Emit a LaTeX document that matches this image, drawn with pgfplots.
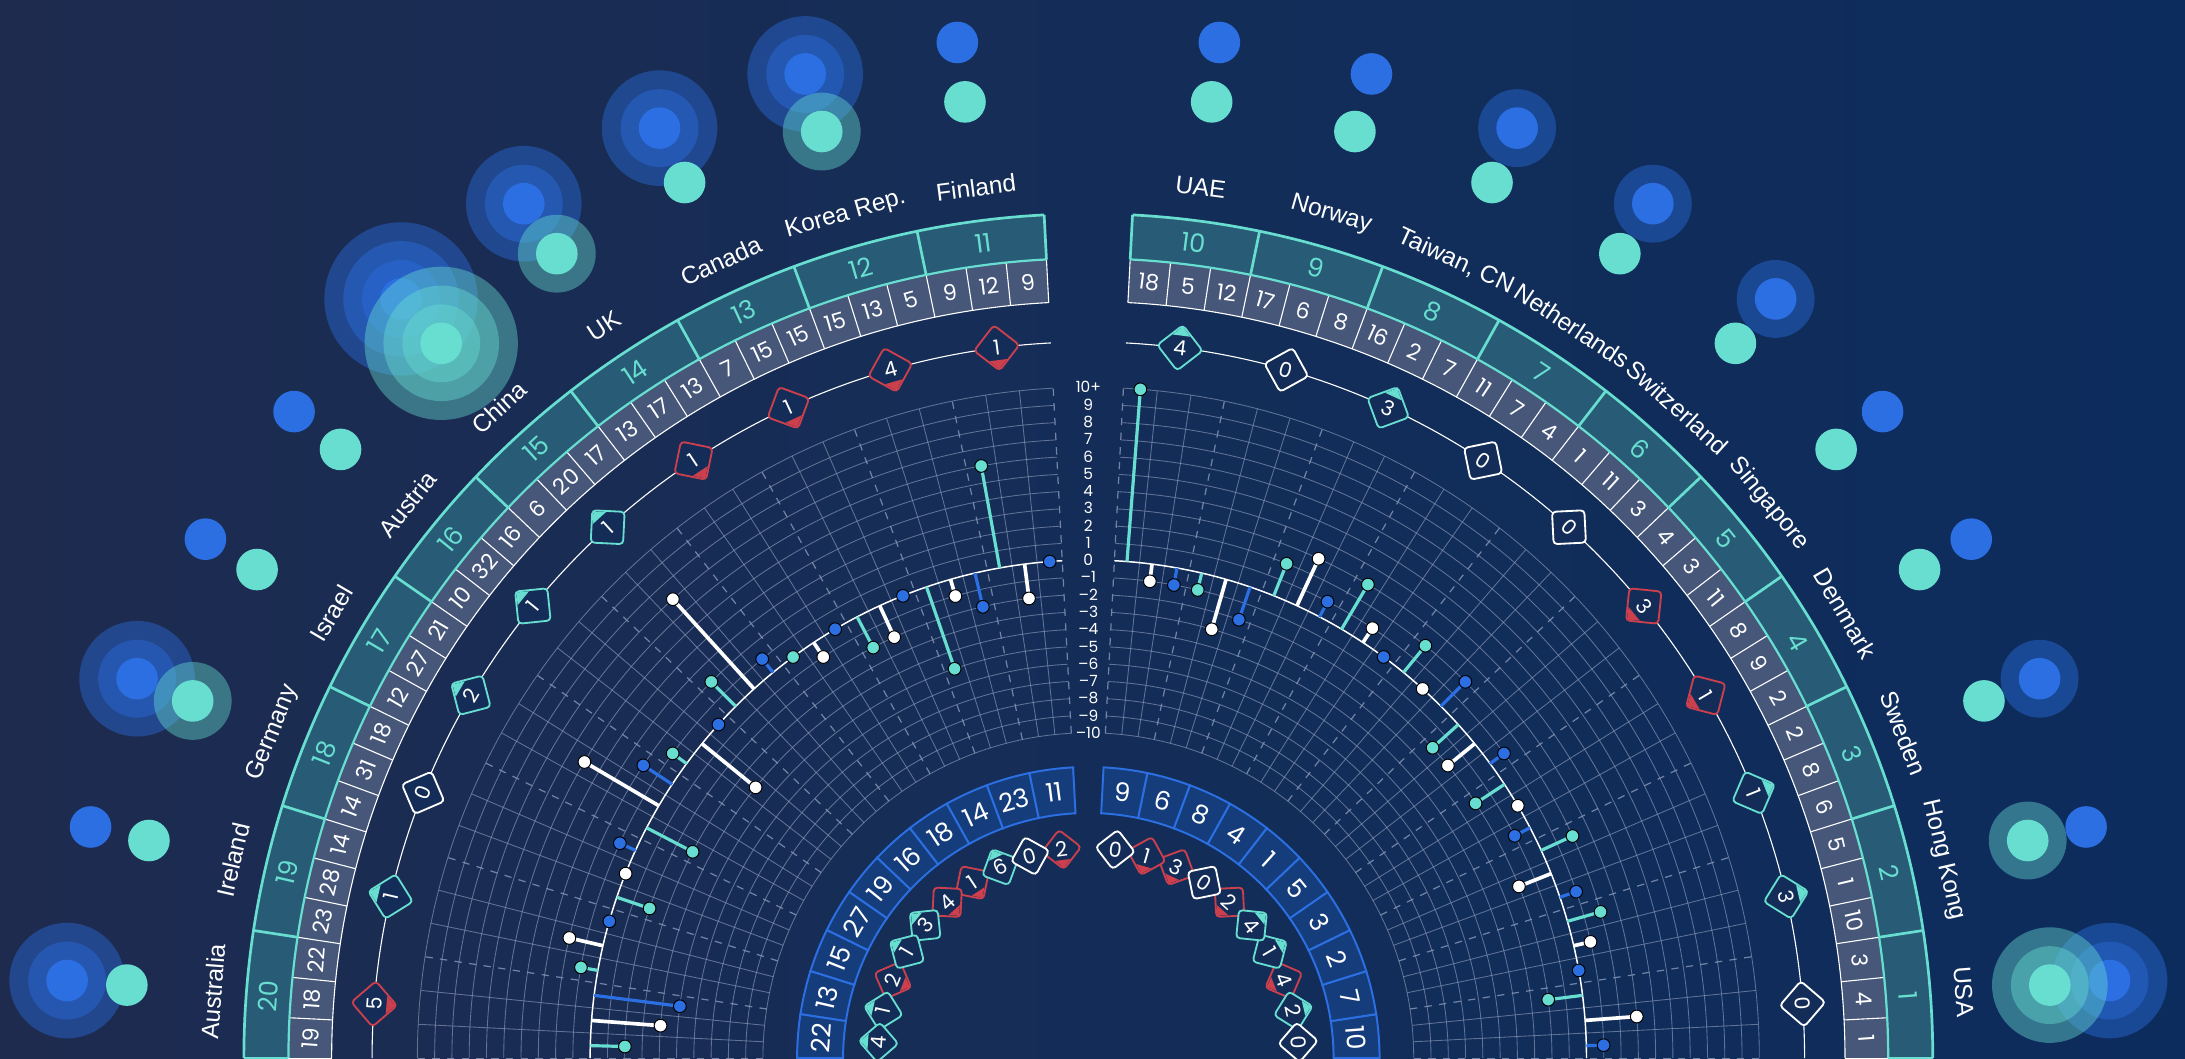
\documentclass[border=0pt]{standalone}
\usepackage{pgfplots}
\pgfplotsset{compat=1.18}
\usepackage{pgfplotstable}
\usepackage{fontspec}
\setmainfont{Liberation Sans}
\newfontfamily\numfont{Poppins}
\usetikzlibrary{shapes.geometric}

\definecolor{bgL}{HTML}{1E2B4F}
\definecolor{bgM}{HTML}{142D58}
\definecolor{bgR}{HTML}{0C2C5D}
\definecolor{bgD}{HTML}{142D58}
\definecolor{tl}{HTML}{68DED1}
\definecolor{bl}{HTML}{2B6FE2}
\definecolor{tband}{HTML}{285B75}
\definecolor{gband}{HTML}{46577A}
\definecolor{rd}{HTML}{CC404E}
\definecolor{iband}{HTML}{153D7B}
\definecolor{gridc}{HTML}{8A99B8}

% corner marks of the change diamonds (local +y = outward)
\pgfdeclareplotmark{cornerup}{%
  \pgfpathmoveto{\pgfqpoint{0pt}{\pgfplotmarksize}}%
  \pgfpathlineto{\pgfqpoint{-0.42\pgfplotmarksize}{0.58\pgfplotmarksize}}%
  \pgfpathlineto{\pgfqpoint{0.42\pgfplotmarksize}{0.58\pgfplotmarksize}}%
  \pgfpathclose\pgfusepathqfill}
\pgfdeclareplotmark{cornerdown}{%
  \pgfpathmoveto{\pgfqpoint{0pt}{-\pgfplotmarksize}}%
  \pgfpathlineto{\pgfqpoint{-0.42\pgfplotmarksize}{-0.58\pgfplotmarksize}}%
  \pgfpathlineto{\pgfqpoint{0.42\pgfplotmarksize}{-0.58\pgfplotmarksize}}%
  \pgfpathclose\pgfusepathqfill}

\pgfplotstableread{
a name rank lo mid hi inn lb lw lt hb ht
4.35 USA 1 1 4 3 10 1 3 -2 2 2
13.05 {Hong Kong} 2 10 1 5 7 0 1 2 0 1
21.75 Sweden 3 6 8 2 2 1 -2 2 1 0
30.45 Denmark 4 2 9 8 3 -1 0 -2 0 0
39.15 Singapore 5 11 3 4 5 1 -2 -2 0 0
47.85 Switzerland 6 3 11 1 1 2 0 2 1 0
56.55 Netherlands 7 4 7 11 4 0 1 3 1 0
65.25 {Taiwan, CN} 8 7 2 16 8 1 3 2 1 0
73.95 Norway 9 8 6 17 6 -2 -3 -1 0 0
82.65 UAE 10 12 5 18 9 -1 -1 10 0 0
97.35 Finland 11 9 12 9 11 0 -2 6 0 0
106.05 {Korea Rep.} 12 5 13 15 23 -2 -1 -5 2 1
114.75 Canada 13 15 15 7 14 0 -2 -2 2 0
123.45 UK 14 13 17 13 18 0 -1 0 2 1
132.15 China 15 17 20 6 16 1 7 2 3 3
140.85 Austria 16 16 32 10 19 0 -4 1 0 0
149.55 Israel 17 21 27 12 27 2 5 -3 0 0
158.25 Germany 18 18 31 14 15 1 0 -2 2 1
166.95 Ireland 19 14 28 23 13 0 2 1 0 0
175.65 Australia 20 22 18 19 22 -5 -4 -2 2 0
}\countries

\pgfplotstableread{
a b w t
4.35 0 0 0
4.35 1 3 -2
4.35 nan nan nan
13.05 0 0 0
13.05 0 1 2
13.05 nan nan nan
21.75 0 0 0
21.75 1 -2 2
21.75 nan nan nan
30.45 0 0 0
30.45 -1 0 -2
30.45 nan nan nan
39.15 0 0 0
39.15 1 -2 -2
39.15 nan nan nan
47.85 0 0 0
47.85 2 0 2
47.85 nan nan nan
56.55 0 0 0
56.55 0 1 3
56.55 nan nan nan
65.25 0 0 0
65.25 1 3 2
65.25 nan nan nan
73.95 0 0 0
73.95 -2 -3 -1
73.95 nan nan nan
82.65 0 0 0
82.65 -1 -1 10
82.65 nan nan nan
97.35 0 0 0
97.35 0 -2 6
97.35 nan nan nan
106.05 0 0 0
106.05 -2 -1 -5
106.05 nan nan nan
114.75 0 0 0
114.75 0 -2 -2
114.75 nan nan nan
123.45 0 0 0
123.45 0 -1 0
123.45 nan nan nan
132.15 0 0 0
132.15 1 7 2
132.15 nan nan nan
140.85 0 0 0
140.85 0 -4 1
140.85 nan nan nan
149.55 0 0 0
149.55 2 5 -3
149.55 nan nan nan
158.25 0 0 0
158.25 1 0 -2
158.25 nan nan nan
166.95 0 0 0
166.95 0 2 1
166.95 nan nan nan
175.65 0 0 0
175.65 -5 -4 -2
175.65 nan nan nan
}\stems

\pgfplotstableread{
a v d
4.35 0 0
13.05 3 1
21.75 1 1
30.45 1 -1
39.15 3 -1
47.85 0 0
56.55 0 0
65.25 3 1
73.95 0 0
82.65 4 1
97.35 1 -1
106.05 4 -1
114.75 1 -1
123.45 1 -1
132.15 1 1
140.85 1 1
149.55 2 1
158.25 0 0
166.95 1 1
175.65 5 -1
}\odia

\pgfplotstableread{
a v d
4.35 0 0
13.05 2 1
21.75 4 -1
30.45 1 1
39.15 4 1
47.85 2 -1
56.55 0 0
65.25 3 -1
73.95 1 -1
82.65 0 0
97.35 2 -1
106.05 0 0
114.75 6 1
123.45 1 -1
132.15 4 -1
140.85 3 1
149.55 1 1
158.25 2 -1
166.95 1 1
175.65 4 1
}\idia

\pgfplotstableread{
a v lab
90 10 10+
90 9 9
90 8 8
90 7 7
90 6 6
90 5 5
90 4 4
90 3 3
90 2 2
90 1 1
90 0 0
90 -1 –1
90 -2 –2
90 -3 –3
90 -4 –4
90 -5 –5
90 -6 –6
90 -7 –7
90 -8 –8
90 -9 –9
90 -10 –10
}\scaletab

\pgfplotsset{
  lbl/.style={draw=none, mark=none, data cs=polar, point meta=explicit symbolic,
    nodes near coords,
    visualization depends on={\thisrow{a} \as \myang},
    every node near coord/.append style={anchor=center, inner sep=0pt, rotate=\myang-90}},
  dia/.style n args={2}{every node near coord/.append style={shape=diamond, aspect=1,
    minimum width=#1, minimum height=#1, draw=#2, fill=bgD, rounded corners=1.5pt, line width=0.75pt,
    text=white, font=\numfont\fontsize{8.5}{9}\selectfont}},
  corner/.style n args={3}{data cs=polar, only marks, scatter, mark=#1, mark size=#2,
    point meta=\thisrow{v},
    scatter/use mapped color={draw=none, fill=#3},
    visualization depends on={\thisrow{a} \as \myang},
    scatter/@pre marker code/.append style={/tikz/rotate=\myang-90}},
  bub/.style n args={3}{data cs=polar, only marks, mark=*, mark size=#1,
    mark options={draw=none, draw opacity=0, line width=0pt, fill=#2, fill opacity=#3}},
  stem/.style={data cs=polar, unbounded coords=jump, mark=none, line width=1.3pt},
  dot/.style={data cs=polar, only marks, mark=*, mark size=2.6pt, mark options={draw=none, fill=#1}},
}

\begin{document}
\begin{tikzpicture}
\begin{axis}[
  x=0.02cm, y=0.02cm,
  xmin=-781, xmax=787, ymin=0, ymax=759.4,
  hide axis, clip=false,
]
\shade[left color=bgL, right color=bgR, middle color=bgM] (rel axis cs:0,0) rectangle (rel axis cs:1,1);

% bubbles (blue outer, teal inner) with halos
\addplot[bub={31.3pt}{bl}{0.42}, restrict expr to domain={\thisrow{hb}}{3:9}] table[x=a, y expr=735] {\countries};
\addplot[bub={23.6pt}{bl}{0.42}, restrict expr to domain={\thisrow{hb}}{2:9}] table[x=a, y expr=735] {\countries};
\addplot[bub={15.9pt}{bl}{0.42}, restrict expr to domain={\thisrow{hb}}{1:9}] table[x=a, y expr=735] {\countries};
\addplot[bub={8.5pt}{bl}{1}] table[x=a, y expr=735] {\countries};
\addplot[bub={31.3pt}{tl}{0.42}, restrict expr to domain={\thisrow{ht}}{3:9}] table[x=a, y expr=692] {\countries};
\addplot[bub={23.6pt}{tl}{0.42}, restrict expr to domain={\thisrow{ht}}{2:9}] table[x=a, y expr=692] {\countries};
\addplot[bub={15.9pt}{tl}{0.42}, restrict expr to domain={\thisrow{ht}}{1:9}] table[x=a, y expr=692] {\countries};
\addplot[bub={8.5pt}{tl}{1}] table[x=a, y expr=692] {\countries};

\pgfplotsextra{%
\begin{scope}[shift={(axis cs:0,0)}, x=0.02cm, y=0.02cm]
  \foreach \k in {-10,...,10} {
    \pgfmathsetmacro\rr{357.5+12.4*\k}
    \draw[gridc, line width=0.35pt, opacity=0.65] (0:\rr) arc[start angle=0, end angle=87, radius=\rr];
    \draw[gridc, line width=0.35pt, opacity=0.65] (93:\rr) arc[start angle=93, end angle=180, radius=\rr];
  }
  \foreach \s in {0,93} {
    \foreach \j in {0,...,30} {
      \pgfmathsetmacro\ga{\s+\j*2.9}
      \pgfmathtruncatemacro\m{mod(\j,3)}
      \ifnum\m=0
        \draw[gridc, line width=0.5pt, opacity=0.8, dash pattern=on 3pt off 3pt] (\ga:233.5) -- (\ga:481.5);
      \else
        \draw[gridc, line width=0.35pt, opacity=0.65] (\ga:233.5) -- (\ga:481.5);
      \fi
    }
  }
  \draw[white, line width=0.6pt] (0:357.5) arc[start angle=0, end angle=87, radius=357.5];
  \draw[white, line width=0.6pt] (93:357.5) arc[start angle=93, end angle=180, radius=357.5];
  \draw[white, line width=0.45pt] (0:514) arc[start angle=0, end angle=87, radius=514];
  \draw[white, line width=0.45pt] (93:514) arc[start angle=93, end angle=180, radius=514];
  \foreach \s in {0,93} {
    \foreach \i in {0,...,9} {
      \pgfmathsetmacro\A{\s+\i*8.7}
      \pgfmathsetmacro\B{\s+\i*8.7+8.7}
      \fill[tband] (\A:574) arc[start angle=\A, end angle=\B, radius=574] -- (\B:606) arc[start angle=\B, end angle=\A, radius=606] -- cycle;
      \fill[gband] (\A:543) arc[start angle=\A, end angle=\B, radius=543] -- (\B:574) arc[start angle=\B, end angle=\A, radius=574] -- cycle;
      \fill[iband] (\A:176) arc[start angle=\A, end angle=\B, radius=176] -- (\B:209) arc[start angle=\B, end angle=\A, radius=209] -- cycle;
      \draw[bl, line width=0.8pt] (\A:176) arc[start angle=\A, end angle=\B, radius=176] -- (\B:209) arc[start angle=\B, end angle=\A, radius=209] -- cycle;
    }
    \foreach \j in {0,...,30} {
      \pgfmathsetmacro\ga{\s+\j*2.9}
      \draw[white, line width=0.45pt] (\ga:543) -- (\ga:574);
    }
    \foreach \j in {0,...,10} {
      \pgfmathsetmacro\ga{\s+\j*8.7}
      \draw[tl, line width=1.1pt] (\ga:574) -- (\ga:606);
    }
    \pgfmathsetmacro\E{\s+87}
    \draw[tl, line width=1.1pt] (\s:606) arc[start angle=\s, end angle=\E, radius=606];
    \draw[tl, line width=0.9pt] (\s:574) arc[start angle=\s, end angle=\E, radius=574];
    \draw[white, line width=0.45pt] (\s:543) arc[start angle=\s, end angle=\E, radius=543];
  }
\end{scope}%
}

% lollipops
\addplot[stem, bl] table[x expr=\thisrow{a}-2.9, y expr=357.5+12.4*\thisrow{b}] {\stems};
\addplot[stem, white, line width=1.5pt] table[x=a, y expr=357.5+12.4*\thisrow{w}] {\stems};
\addplot[stem, tl] table[x expr=\thisrow{a}+2.9, y expr=357.5+12.4*\thisrow{t}] {\stems};
\addplot[dot=bl] table[x expr=\thisrow{a}-2.9, y expr=357.5+12.4*\thisrow{lb}] {\countries};
\addplot[dot=white] table[x=a, y expr=357.5+12.4*\thisrow{lw}] {\countries};
\addplot[dot=tl] table[x expr=\thisrow{a}+2.9, y expr=357.5+12.4*\thisrow{lt}] {\countries};

% outer diamonds
\addplot[lbl, dia={19pt}{rd}, restrict expr to domain={\thisrow{d}}{-1:-1}] table[x=a, y expr=514, meta=v] {\odia};
\addplot[lbl, dia={19pt}{tl}, restrict expr to domain={\thisrow{d}}{1:1}] table[x=a, y expr=514, meta=v] {\odia};
\addplot[lbl, dia={19pt}{white}, restrict expr to domain={\thisrow{d}}{0:0}] table[x=a, y expr=514, meta=v] {\odia};
\addplot[corner={cornerdown}{8.7pt}{rd}, restrict expr to domain={\thisrow{d}}{-1:-1}] table[x=a, y expr=514] {\odia};
\addplot[corner={cornerup}{8.7pt}{tl}, restrict expr to domain={\thisrow{d}}{1:1}] table[x=a, y expr=514] {\odia};

% inner diamonds
\addplot[lbl, dia={16.5pt}{rd}, restrict expr to domain={\thisrow{d}}{-1:-1}] table[x=a, y expr=151, meta=v] {\idia};
\addplot[lbl, dia={16.5pt}{tl}, restrict expr to domain={\thisrow{d}}{1:1}] table[x=a, y expr=151, meta=v] {\idia};
\addplot[lbl, dia={16.5pt}{white}, restrict expr to domain={\thisrow{d}}{0:0}] table[x=a, y expr=151, meta=v] {\idia};
\addplot[corner={cornerdown}{7.4pt}{rd}, restrict expr to domain={\thisrow{d}}{-1:-1}] table[x=a, y expr=151] {\idia};
\addplot[corner={cornerup}{7.4pt}{tl}, restrict expr to domain={\thisrow{d}}{1:1}] table[x=a, y expr=151] {\idia};

% texts
\addplot[lbl, nodes near coords style={font=\fontsize{10}{12}\selectfont, text=white}] table[x=a, y expr=630, meta=name] {\countries};
\addplot[lbl, nodes near coords style={font=\numfont\fontsize{10.5}{12}\selectfont, text=tl}] table[x=a, y expr=590, meta=rank] {\countries};
\addplot[lbl, nodes near coords style={font=\numfont\fontsize{9}{10}\selectfont, text=white}] table[x expr=\thisrow{a}-2.9, y expr=558.5, meta=lo] {\countries};
\addplot[lbl, nodes near coords style={font=\numfont\fontsize{9}{10}\selectfont, text=white}] table[x=a, y expr=558.5, meta=mid] {\countries};
\addplot[lbl, nodes near coords style={font=\numfont\fontsize{9}{10}\selectfont, text=white}] table[x expr=\thisrow{a}+2.9, y expr=558.5, meta=hi] {\countries};
\addplot[lbl, nodes near coords style={font=\numfont\fontsize{10.5}{12}\selectfont, text=white}] table[x=a, y expr=192.5, meta=inn] {\countries};
\addplot[lbl, nodes near coords style={font=\numfont\fontsize{6.3}{7}\selectfont, text=white}] table[x=a, y expr=357.5+12.4*\thisrow{v}, meta=lab] {\scaletab};
\end{axis}
\pgfresetboundingbox
\path[use as bounding box] (current axis.south west) rectangle (current axis.north east);
\end{tikzpicture}
\end{document}
